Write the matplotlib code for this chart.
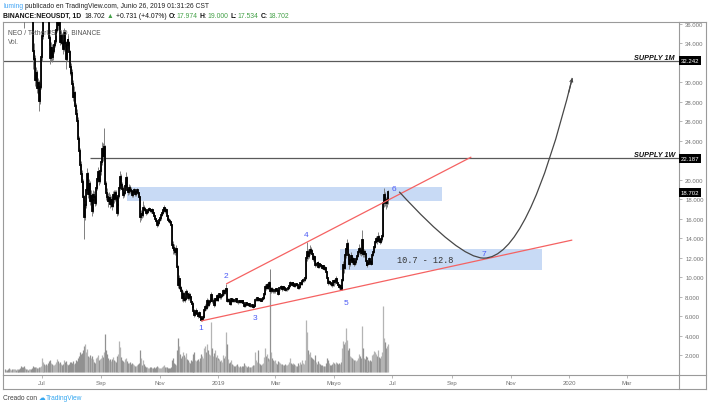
import matplotlib
matplotlib.use('Agg')
import matplotlib.pyplot as plt
import matplotlib.dates as mdates
import matplotlib.transforms as mtransforms
from matplotlib.path import Path
from matplotlib.patches import PathPatch, Rectangle
from matplotlib.lines import Line2D
import numpy as np
import pandas as pd

# ---------------- data (NEO/USDT, Binance, daily) ----------------
FIRST_DAY = '2018-05-24'
FIRST_OPEN = 50.2
LAST_OPEN = 17.974

closes = [
    # May 2018 (from 24th)
    49.5, 50.8, 49.2, 48.6, 46.0, 48.9, 49.3, 48.2,
    # Jun 2018
    49.6, 51.0, 52.4, 49.3, 50.0, 50.5, 50.2, 48.9, 47.8, 41.5,
    41.0, 38.2, 36.9, 38.5, 37.6, 38.4, 38.0, 39.1, 40.3, 39.2,
    36.8, 33.2, 32.4, 30.2, 31.0, 29.4, 29.9, 28.1, 29.5, 32.6,
    # Jul 2018
    34.8, 37.5, 39.0, 38.5, 38.8, 38.2, 38.9, 37.5, 34.6, 32.5,
    33.5, 32.6, 33.2, 33.8, 34.3, 35.4, 36.8, 35.9, 36.4, 34.2,
    34.8, 34.0, 33.4, 35.1, 34.0, 32.4, 33.8, 34.4, 34.0, 33.1, 31.6,
    # Aug 2018
    31.0, 29.8, 28.5, 28.9, 27.6, 26.8, 26.0, 24.2, 23.0, 21.5,
    20.6, 19.8, 18.2, 16.2, 17.4, 18.9, 20.6, 18.5, 19.6, 17.8,
    18.3, 16.8, 17.9, 18.4, 18.2, 17.6, 19.2, 20.1, 20.8, 19.9, 20.9,
    # Sep 2018
    21.8, 23.2, 22.4, 23.4, 19.6, 18.6, 18.2, 17.8, 18.1, 17.5,
    17.9, 17.3, 18.4, 18.0, 18.6, 18.1, 16.6, 17.4, 18.3, 19.2,
    20.3, 19.5, 19.1, 18.4, 18.6, 19.4, 20.2, 19.0, 18.7, 19.2,
    # Oct 2018
    19.0, 18.8, 18.4, 18.7, 18.9, 18.5, 18.7, 18.9, 18.6, 18.2,
    16.2, 16.5, 16.4, 16.6, 17.1, 17.0, 16.9, 16.6, 16.7, 16.9,
    17.0, 16.9, 16.8, 16.9, 16.6, 16.3, 16.0, 15.8, 15.4, 15.6, 15.9,
    # Nov 2018
    16.1, 16.4, 16.6, 16.9, 17.1, 16.8, 16.9, 16.3, 16.0, 15.9,
    15.8, 15.7, 15.4, 13.3, 13.0, 12.8, 12.6, 12.9, 11.0, 9.2,
    9.8, 8.9, 8.6, 7.9, 8.3, 7.7, 7.8, 8.5, 8.3, 7.9,
    # Dec 2018
    8.2, 8.0, 7.4, 7.2, 6.9, 6.5, 6.1, 6.3, 6.5, 6.2,
    6.0, 6.3, 5.9, 5.6, 5.7, 5.9, 6.6, 6.9, 6.8, 7.6,
    7.1, 7.4, 7.6, 8.2, 7.5, 7.6, 7.1, 7.8, 7.7, 8.1, 7.7,
    # Jan 2019
    8.0, 8.3, 8.0, 8.1, 8.2, 8.6, 8.4, 8.6, 8.8, 7.6,
    7.7, 7.6, 7.2, 7.8, 7.5, 7.7, 7.6, 7.5, 7.8, 7.4,
    7.4, 7.6, 7.4, 7.5, 7.4, 7.5, 7.3, 7.0, 7.1, 7.3, 7.2,
    # Feb 2019
    7.1, 7.2, 7.0, 7.0, 7.1, 6.9, 7.0, 7.7, 7.7, 7.9,
    7.7, 7.8, 7.7, 7.6, 7.8, 7.9, 8.3, 9.0, 8.9, 9.2,
    8.9, 9.1, 9.4, 8.6, 8.8, 8.7, 8.6, 8.6,
    # Mar 2019
    8.7, 8.8, 8.6, 8.3, 8.9, 8.9, 9.0, 8.8, 9.0, 8.9,
    8.7, 8.8, 8.8, 8.9, 9.1, 9.4, 9.3, 9.2, 9.4, 9.3,
    9.1, 9.2, 9.3, 9.2, 8.9, 9.0, 9.4, 9.3, 9.6, 9.7, 9.7,
    # Apr 2019
    9.9, 12.0, 12.6, 12.2, 12.5, 12.8, 12.7, 12.4, 11.9, 12.1,
    11.2, 11.4, 11.3, 11.5, 11.0, 11.3, 11.2, 11.1, 10.9, 11.1,
    10.8, 10.9, 10.5, 9.9, 9.4, 9.5, 9.4, 9.3, 9.2, 9.6,
    # May 2019
    9.5, 9.6, 9.8, 9.4, 9.2, 9.0, 9.1, 8.8, 8.9, 9.7,
    11.2, 10.9, 12.3, 12.9, 13.4, 12.3, 11.3, 11.8, 12.2, 11.6,
    11.9, 11.3, 11.6, 11.9, 12.2, 12.6, 12.9, 12.7, 12.5, 13.8, 12.4,
    # Jun 2019 (to 26th)
    12.6, 12.4, 11.7, 11.2, 11.5, 11.4, 11.9, 11.6, 11.4, 12.3,
    12.6, 13.1, 13.6, 13.9, 13.7, 14.1, 13.8, 13.6, 13.9, 14.2,
    17.6, 18.4, 17.8, 17.6, 17.971, 18.702,
]

highs = [
    51.0, 51.6, 51.2, 49.8, 48.9, 49.5, 50.4, 49.8,
    50.6, 51.5, 52.9, 52.6, 50.8, 51.2, 51.0, 50.4, 49.2, 47.9,
    42.6, 41.3, 38.9, 39.3, 38.9, 38.8, 38.9, 39.5, 40.9, 40.6,
    39.5, 37.2, 34.0, 32.8, 31.6, 31.3, 30.5, 30.2, 29.9, 33.0,
    35.3, 38.2, 39.6, 39.8, 39.4, 39.1, 39.5, 39.2, 37.8, 34.9,
    34.2, 33.9, 33.8, 34.3, 34.8, 35.8, 37.2, 37.6, 37.0, 36.6,
    35.3, 35.1, 34.4, 35.6, 35.4, 34.3, 34.1, 34.9, 34.8, 34.3, 33.3,
    32.0, 31.4, 30.2, 29.6, 29.1, 27.9, 27.3, 26.4, 24.5, 23.3,
    21.9, 21.0, 20.1, 18.4, 17.9, 19.3, 21.2, 20.8, 20.1, 19.9,
    18.9, 18.6, 18.3, 18.9, 18.8, 18.4, 19.6, 20.5, 21.3, 21.0, 21.4,
    22.3, 23.9, 23.8, 25.3, 23.6, 19.9, 19.2, 18.6, 18.7, 18.5,
    18.3, 18.2, 18.8, 18.9, 19.0, 18.9, 18.3, 17.8, 18.6, 19.6,
    20.9, 20.6, 19.8, 19.4, 19.0, 19.9, 20.8, 20.4, 19.3, 19.6,
    19.5, 19.3, 18.9, 19.0, 19.2, 19.0, 18.9, 19.2, 19.0, 18.7,
    18.3, 16.9, 16.8, 16.9, 17.8, 17.4, 17.2, 17.0, 16.9, 17.1,
    17.2, 17.1, 17.0, 17.1, 17.0, 16.7, 16.4, 16.1, 15.9, 15.8, 16.1,
    16.3, 16.6, 16.9, 17.2, 17.4, 17.2, 17.1, 17.0, 16.4, 16.2,
    16.1, 16.0, 15.8, 15.5, 13.7, 13.4, 13.1, 13.3, 13.0, 11.2,
    10.2, 9.9, 9.1, 8.8, 8.6, 8.5, 8.1, 8.8, 8.7, 8.4,
    8.5, 8.4, 8.1, 7.6, 7.4, 7.0, 6.7, 6.6, 6.8, 6.6,
    6.3, 6.5, 6.4, 6.0, 5.9, 6.1, 6.8, 7.2, 7.2, 7.9,
    7.8, 7.6, 7.9, 8.5, 8.3, 7.9, 7.8, 7.9, 8.1, 8.3, 8.2,
    8.2, 8.4, 8.4, 8.3, 8.4, 8.8, 8.8, 8.9, 9.3, 8.9,
    7.9, 7.9, 7.7, 7.9, 7.9, 7.9, 7.8, 7.7, 7.9, 7.9,
    7.6, 7.7, 7.7, 7.6, 7.6, 7.6, 7.6, 7.3, 7.2, 7.4, 7.4,
    7.3, 7.3, 7.2, 7.1, 7.2, 7.1, 7.1, 7.9, 7.9, 8.0,
    7.9, 7.9, 7.9, 7.8, 7.9, 8.0, 8.5, 9.3, 9.3, 9.4,
    9.3, 9.2, 9.6, 10.8, 9.0, 9.0, 8.9, 8.8,
    8.9, 8.9, 8.9, 8.7, 9.0, 9.1, 9.2, 9.1, 9.1, 9.1,
    8.9, 8.9, 8.9, 9.0, 9.2, 9.6, 9.5, 9.4, 9.5, 9.5,
    9.4, 9.3, 9.4, 9.4, 9.3, 9.1, 9.5, 9.5, 9.8, 9.9, 9.8,
    10.1, 12.4, 13.6, 12.9, 12.8, 13.3, 13.1, 12.9, 12.5, 12.3,
    12.2, 11.6, 11.5, 11.7, 11.6, 11.5, 11.4, 11.3, 11.2, 11.2,
    11.2, 11.1, 11.0, 10.6, 10.0, 9.7, 9.6, 9.5, 9.4, 9.7,
    9.8, 9.8, 10.1, 9.9, 9.5, 9.3, 9.3, 9.2, 9.0, 9.9,
    11.7, 11.9, 12.6, 13.3, 13.9, 13.6, 12.5, 12.0, 12.6, 12.3,
    12.1, 12.0, 11.8, 12.1, 12.4, 12.8, 13.4, 13.1, 12.9, 14.8, 13.9,
    12.9, 12.8, 12.5, 11.8, 11.8, 11.7, 12.1, 12.0, 11.8, 12.5,
    12.9, 13.3, 13.8, 14.2, 14.1, 14.6, 14.3, 14.0, 14.1, 14.5,
    17.9, 19.2, 18.7, 18.2, 18.3, 19.0,
]

lows = [
    48.8, 49.1, 48.5, 47.0, 45.2, 45.6, 48.1, 47.6,
    48.4, 49.3, 50.6, 48.9, 49.0, 49.7, 49.6, 48.5, 47.2, 40.6,
    39.8, 37.4, 35.6, 36.6, 36.9, 37.2, 37.3, 37.7, 38.8, 38.8,
    36.3, 31.4, 31.8, 29.6, 29.9, 28.9, 28.8, 27.1, 27.8, 29.3,
    32.2, 34.5, 37.1, 37.9, 37.8, 37.6, 37.9, 37.1, 33.8, 31.9,
    32.2, 32.1, 32.3, 33.0, 33.6, 34.0, 35.2, 35.4, 35.6, 33.8,
    33.9, 33.6, 32.9, 33.2, 33.6, 31.4, 32.2, 33.5, 33.6, 32.8, 30.8,
    30.4, 29.2, 28.1, 27.9, 27.1, 26.3, 25.5, 23.8, 22.4, 21.0,
    19.9, 19.2, 17.8, 13.9, 15.9, 17.1, 18.6, 18.1, 18.2, 17.4,
    17.5, 16.3, 16.6, 17.6, 17.8, 17.3, 17.4, 19.0, 19.8, 19.5, 19.7,
    20.5, 21.5, 21.9, 22.1, 19.1, 17.9, 17.8, 17.2, 17.5, 17.1,
    17.2, 16.9, 17.2, 17.6, 17.8, 17.9, 16.3, 16.4, 17.2, 18.1,
    19.0, 19.1, 18.8, 18.1, 18.2, 18.5, 19.2, 18.8, 18.4, 18.5,
    18.6, 18.5, 18.2, 18.2, 18.5, 18.3, 18.3, 18.5, 18.4, 18.0,
    15.7, 15.9, 16.1, 16.2, 16.5, 16.8, 16.7, 16.4, 16.5, 16.6,
    16.8, 16.7, 16.6, 16.6, 16.4, 16.1, 15.8, 15.6, 15.1, 15.3, 15.5,
    15.8, 15.9, 16.3, 16.5, 16.7, 16.6, 16.6, 16.2, 15.8, 15.7,
    15.6, 15.5, 15.2, 13.1, 12.4, 12.4, 12.3, 12.4, 10.7, 8.9,
    8.8, 8.7, 8.3, 7.6, 7.4, 7.5, 7.4, 7.7, 8.0, 7.7,
    7.7, 7.8, 7.2, 7.0, 6.7, 6.3, 5.9, 6.0, 6.2, 6.0,
    5.8, 5.9, 5.7, 5.5, 5.5, 5.6, 5.8, 6.5, 6.6, 6.7,
    6.9, 7.0, 7.2, 7.5, 7.3, 7.3, 6.9, 7.0, 7.5, 7.6, 7.5,
    7.6, 7.9, 7.8, 7.8, 8.0, 8.1, 8.2, 8.3, 8.5, 7.4,
    7.4, 7.4, 7.1, 7.1, 7.4, 7.4, 7.4, 7.4, 7.4, 7.3,
    7.2, 7.3, 7.3, 7.3, 7.3, 7.3, 7.2, 6.9, 6.9, 7.0, 7.1,
    7.0, 7.0, 6.9, 6.9, 6.9, 6.85, 6.9, 7.0, 7.5, 7.6,
    7.6, 7.6, 7.5, 7.5, 7.5, 7.7, 7.8, 8.2, 8.7, 8.8,
    8.8, 8.8, 9.0, 8.4, 8.4, 8.5, 8.4, 8.4,
    8.4, 8.6, 8.5, 8.2, 8.3, 8.7, 8.8, 8.6, 8.7, 8.7,
    8.6, 8.6, 8.6, 8.7, 8.8, 9.0, 9.2, 9.1, 9.1, 9.2,
    9.0, 9.0, 9.1, 9.1, 8.8, 8.8, 8.9, 9.2, 9.2, 9.5, 9.5,
    9.6, 9.8, 11.7, 11.9, 12.0, 12.3, 12.4, 12.1, 11.7, 11.7,
    11.0, 11.1, 11.1, 11.2, 10.9, 10.9, 11.0, 10.9, 10.8, 10.8,
    10.7, 10.7, 10.4, 9.7, 9.2, 9.3, 9.2, 9.1, 9.0, 9.1,
    9.1, 9.3, 9.5, 9.2, 9.0, 8.8, 8.8, 8.66, 8.64, 8.8,
    9.6, 10.4, 10.8, 12.0, 12.6, 11.8, 10.8, 11.1, 11.6, 11.3,
    11.4, 11.1, 11.2, 11.4, 11.8, 12.1, 12.4, 12.3, 12.2, 12.3, 12.1,
    12.1, 12.1, 11.5, 11.1, 11.0, 11.2, 11.3, 11.4, 11.2, 11.3,
    12.2, 12.5, 13.0, 13.5, 13.4, 13.6, 13.6, 13.4, 13.5, 13.7,
    14.1, 17.2, 17.3, 17.0, 17.2, 17.534,
]

volumes = [  # relative daily volume
    3, 2, 2, 3, 4, 3, 2, 3,
    3, 3, 3, 2, 3, 3, 2, 3, 4, 6,
    5, 5, 6, 4, 3, 3, 2, 3, 3, 3,
    4, 6, 5, 5, 5, 4, 4, 5, 5, 6,
    14, 10, 9, 8, 7, 8, 7, 9, 11, 12,
    9, 8, 7, 7, 8, 10, 13, 11, 9, 10,
    8, 7, 8, 12, 10, 11, 8, 7, 7, 8, 10,
    10, 9, 11, 8, 9, 12, 11, 14, 16, 20,
    18, 19, 22, 26, 28, 20, 23, 16, 15, 17,
    14, 16, 13, 11, 10, 9, 14, 15, 17, 12, 13,
    14, 17, 15, 20, 38, 22, 18, 14, 12, 13,
    11, 13, 15, 12, 11, 10, 16, 14, 18, 31,
    25, 15, 12, 11, 10, 13, 14, 11, 9, 9,
    10, 8, 9, 8, 7, 6, 6, 7, 8, 9,
    22, 14, 7, 6, 12, 8, 6, 5, 5, 4,
    4, 5, 5, 4, 4, 5, 4, 5, 6, 5, 4,
    4, 4, 5, 6, 7, 5, 5, 5, 4, 3,
    4, 4, 5, 12, 14, 9, 8, 7, 22, 34,
    26, 18, 14, 16, 20, 17, 15, 19, 13, 12,
    10, 9, 12, 11, 14, 18, 20, 12, 11, 12,
    13, 11, 14, 18, 16, 14, 24, 26, 20, 28,
    22, 18, 17, 50, 24, 16, 19, 22, 15, 17, 14,
    12, 13, 11, 12, 10, 17, 14, 16, 40, 28,
    13, 9, 10, 12, 8, 7, 6, 6, 7, 8,
    6, 5, 6, 5, 6, 5, 6, 9, 7, 6, 5,
    6, 5, 5, 5, 6, 7, 7, 20, 12, 10,
    22, 9, 8, 7, 8, 9, 15, 24, 16, 18,
    14, 11, 13, 80, 20, 14, 12, 11,
    12, 9, 8, 11, 10, 9, 8, 8, 7, 7,
    8, 7, 7, 8, 10, 14, 9, 8, 9, 7,
    8, 7, 6, 6, 9, 7, 10, 8, 12, 9, 8,
    12, 52, 40, 22, 18, 20, 15, 14, 13, 12,
    17, 10, 8, 8, 11, 9, 8, 7, 7, 6,
    6, 6, 9, 14, 12, 9, 7, 7, 8, 10,
    9, 8, 10, 9, 8, 9, 8, 10, 14, 24,
    31, 28, 30, 44, 32, 22, 24, 16, 15, 14,
    13, 12, 12, 11, 12, 14, 18, 16, 14, 46, 24,
    14, 13, 16, 15, 13, 12, 11, 12, 11, 17,
    18, 21, 20, 18, 16, 22, 15, 14, 16, 20,
    66, 34, 30, 24, 26, 28,
]

# horizontal supply levels
supply_levels = [32.242, 22.187]
supply_names = ['SUPPLY 1M', 'SUPPLY 1W']
supply_starts = ['2018-05-01', '2018-08-20']
last_price = 18.702

# drawn zones (start, end, low, high)
zones = [('2018-09-28', '2019-08-22', 17.8, 19.25),
         ('2019-05-07', '2019-12-03', 10.7, 12.9)]
zone_label = '10.7 - 12.8'
zone_label_pos = ('2019-08-04', 11.8)

# channel trendlines
upper_line = [('2019-01-09', 9.30), ('2019-09-21', 22.34)]
lower_line = [('2018-12-14', 5.50), ('2020-01-04', 13.81)]

# projected path (quadratic curve: start, ctrl, bottom, ctrl, end)
arc_points = [('2019-07-08', 18.77), ('2019-09-09', 11.95), ('2019-10-04', 11.95),
              ('2019-11-19', 11.95), ('2020-01-04', 30.46)]

# wave count labels
wave_labels = ['1', '2', '3', '4', '5', '6', '7']
wave_dates = ['2018-12-14', '2019-01-09', '2019-02-08', '2019-04-02',
              '2019-05-14', '2019-07-02', '2019-10-04']
wave_prices = [4.82, 10.15, 5.85, 14.36, 7.38, 19.15, 12.41]

price_ticks = [2, 4, 6, 8, 10, 12, 14, 16, 18, 20, 24, 26, 28, 30, 34, 36]
time_tick_dates = ['2018-07-01', '2018-09-01', '2018-11-01', '2019-01-01', '2019-03-01',
                   '2019-05-01', '2019-07-01', '2019-09-01', '2019-11-01', '2020-01-01',
                   '2020-03-01']
time_tick_labels = ['Jul', 'Sep', 'Nov', '2019', 'Mar', 'Mayo', 'Jul', 'Sep', 'Nov',
                    '2020', 'Mar']

# ---------------- figure ----------------
W, H = 710, 410
FONT = ['Liberation Sans', 'DejaVu Sans']
plt.rcParams['font.family'] = FONT

fig = plt.figure(figsize=(W / 100, H / 100), dpi=100)
fig.patch.set_facecolor('white')

L_PX, R_PX, T_PX, B_PX = 3.3, 679.3, 23.3, 375.5
pos = [L_PX / W, 1 - B_PX / H, (R_PX - L_PX) / W, (B_PX - T_PX) / H]
ax_h_px = B_PX - T_PX

ax_v = fig.add_axes(pos)
ax = fig.add_axes(pos)
ax.patch.set_alpha(0)

n = min(len(closes), len(highs), len(lows), len(volumes))
dates = pd.date_range(FIRST_DAY, periods=n, freq='D')
xd = mdates.date2num(dates)
c = np.array(closes[:n], float)
h = np.array(highs[:n], float)
lo = np.array(lows[:n], float)
v = np.array(volumes[:n], float)
o = np.concatenate([[FIRST_OPEN], c[:-1]])
o[-1] = LAST_OPEN

def dn(s):
    return mdates.date2num(pd.Timestamp(s))

x0 = dn('2018-07-01') - 38.3 / 0.9623
x1 = dn('2018-07-01') + 638.3 / 0.9623
y_top = (B_PX - T_PX) / 9.736

# volume
ax_v.set_xlim(x0, x1)
ax_v.set_ylim(-2.5, ax_h_px - 2.5)
ax_v.axis('off')
up = c >= o
vcol = np.where(up, '#b4b4b4', '#919191')
ax_v.vlines(xd, 0, v, colors=vcol, lw=0.9)

# zones
for zs, ze, zl, zh in zones:
    ax.add_patch(Rectangle((dn(zs), zl), dn(ze) - dn(zs), zh - zl,
                           facecolor='#c8daf5', edgecolor='none', zorder=1))
ax.text(dn(zone_label_pos[0]), zone_label_pos[1], zone_label, family=['Liberation Mono', 'DejaVu Sans Mono'],
        fontsize=6.2, color='#333333', ha='center', va='center', zorder=6)

# supply lines
for lvl, name, st in zip(supply_levels, supply_names, supply_starts):
    ax.hlines(lvl, max(dn(st), x0), x1, colors='#5a5a5a', lw=0.9, zorder=2)
    ax.text((675 - L_PX) / (R_PX - L_PX), lvl, name,
            transform=mtransforms.blended_transform_factory(ax.transAxes, ax.transData),
            fontsize=5.2, fontweight='bold', fontstyle='italic', color='#111111',
            ha='right', va='bottom', zorder=6)

# candles
ax.vlines(xd, lo, h, colors='#777777', lw=0.65, zorder=3)
bodies = ax.vlines(xd, np.minimum(o, c), np.maximum(o, c), colors='#000000', lw=1.3, zorder=4)
bodies.set_capstyle('projecting')

# trendlines
for ln in (upper_line, lower_line):
    ax.plot([dn(ln[0][0]), dn(ln[1][0])], [ln[0][1], ln[1][1]], color='#f56262', lw=0.9,
            zorder=5, solid_capstyle='butt')

# projected curve
verts = [(dn(d), p) for d, p in arc_points]
codes = [Path.MOVETO, Path.CURVE3, Path.CURVE3, Path.CURVE3, Path.CURVE3]
ax.add_patch(PathPatch(Path(verts, codes), facecolor='none', edgecolor='#474747', lw=0.9, zorder=5))
ex, ey = verts[-1]
cx, cy = verts[-2]
ax.annotate('', xy=(ex, ey), xytext=(ex - 0.08 * (ex - cx), ey - 0.08 * (ey - cy)),
            arrowprops=dict(arrowstyle='->', color='#474747', lw=0.8, mutation_scale=5,
                            shrinkA=0, shrinkB=0), zorder=5)

# wave labels
for lab, d, p in zip(wave_labels, wave_dates, wave_prices):
    ax.text(dn(d), p, lab, color='#4b5af5', fontsize=6, ha='center', va='center', zorder=7)

# axes limits / ticks
ax.set_xlim(x0, x1)
ax.set_ylim(0, y_top)
ax.yaxis.tick_right()
ax.set_yticks(price_ticks)
ax.set_yticklabels(['%.3f' % t for t in price_ticks])
ax.tick_params(axis='y', labelsize=4.3, colors='#9a9a9a', labelcolor='#707070', length=2.2,
               width=0.5, pad=2)
ax.set_xticks([dn(d) for d in time_tick_dates])
ax.set_xticklabels(time_tick_labels)
ax.tick_params(axis='x', labelsize=4.3, colors='#9a9a9a', labelcolor='#707070', length=2.2,
               width=0.5, pad=1.5)
for sp in ax.spines.values():
    sp.set_color('#9a9a9a')
    sp.set_linewidth(0.8)

# price-axis highlighted labels
btr = mtransforms.blended_transform_factory(ax.transAxes, ax.transData)
for val in supply_levels + [last_price]:
    ax.text(1.0 + 1.2 / (R_PX - L_PX), val, '%.3f' % val, transform=btr, fontsize=4.3,
            color='white', ha='left', va='center', clip_on=False, zorder=10,
            bbox=dict(boxstyle='square,pad=0.3', facecolor='black', edgecolor='none'))

# outer frame lines
def fig_line(xa, ya, xb, yb, color='#9a9a9a', lw=0.8):
    fig.add_artist(Line2D([xa / W, xb / W], [1 - ya / H, 1 - yb / H], color=color, lw=lw,
                          transform=fig.transFigure))

fig_line(R_PX, T_PX, 706, T_PX)
fig_line(706, T_PX, 706, 390)
fig_line(L_PX, 390, 706, 390)
fig_line(L_PX, B_PX, L_PX, 390)
fig_line(R_PX, B_PX, 706, B_PX)
fig_line(R_PX, B_PX, R_PX, 390)

# texts
renderer = fig.canvas.get_renderer()

def rich(x_px, y_px, parts, size):
    x = x_px
    for txt, color, weight, gap in parts:
        t = fig.text(x / W, 1 - y_px / H, txt, fontsize=size, color=color, fontweight=weight,
                     ha='left', va='center', family=FONT)
        x += t.get_window_extent(renderer).width + gap

GREEN = '#43a047'
rich(3.3, 6.5, [('luming', '#42a5f5', 'normal', 2.0),
                ('publicado en TradingView.com, Junio 26, 2019 01:31:26 CST', '#222222', 'normal', 0)], 4.85)
rich(3.3, 16.5, [('BINANCE:NEOUSDT, 1D', '#111111', 'bold', 3.0),
                 ('18.702', '#111111', 'normal', 2.0),
                 ('\u25b2', GREEN, 'normal', 2.0),
                 ('+0.731 (+4.07%)', '#111111', 'normal', 2.5),
                 ('O:', '#111111', 'bold', 0.6), ('17.974', GREEN, 'normal', 2.0),
                 ('H:', '#111111', 'bold', 0.6), ('19.000', GREEN, 'normal', 2.0),
                 ('L:', '#111111', 'bold', 0.6), ('17.534', GREEN, 'normal', 2.0),
                 ('C:', '#111111', 'bold', 0.6), ('18.702', GREEN, 'normal', 0)], 4.85)

fig.text(8 / W, 1 - 33 / H, 'NEO / TetherUS, 1D, BINANCE', fontsize=4.8, color='#555555',
         ha='left', va='center', zorder=0)
fig.text(8 / W, 1 - 43 / H, 'Vol.', fontsize=4.8, color='#666666', ha='left', va='center', zorder=0)

rich(3.3, 399, [('Creado con', '#444444', 'normal', 1.5),
                ('\u2601', '#35a7f0', 'normal', 0.5),
                ('TradingView', '#35a7f0', 'normal', 0)], 4.8)

fig.savefig('out.png', dpi=100, facecolor='white')
